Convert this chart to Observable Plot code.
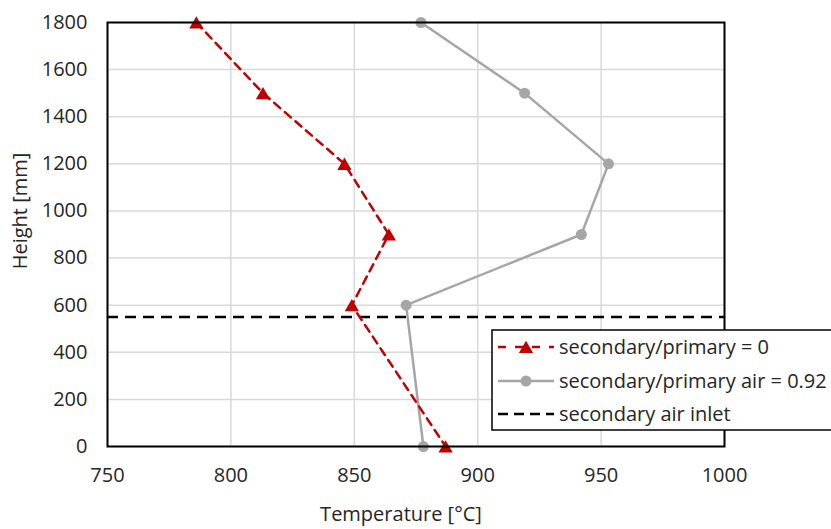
<!DOCTYPE html>
<html>
<head>
<meta charset="utf-8">
<script src="https://cdn.jsdelivr.net/npm/d3@7"></script>
<script src="https://cdn.jsdelivr.net/npm/@observablehq/plot@0.6"></script>
<style>
  html, body { margin: 0; padding: 0; background: #fff; }
  #chart svg { display: block; overflow: hidden; }
</style>
</head>
<body>
<div id="chart"></div>
<script>
// Measurement heights along the reactor (mm)
const heights = [1800, 1500, 1200, 900, 600, 0];
// Temperatures for secondary/primary = 0 (°C)
const tempNoSecondary = [786, 813, 846, 864, 849, 887];
// Temperatures for secondary/primary air = 0.92 (°C)
const tempSecondary092 = [877, 919, 953, 942, 871, 878];
// Height of the secondary air inlet (mm)
const inletHeight = 550;

const xTicks = [750, 800, 850, 900, 950, 1000];
const yTicks = [0, 200, 400, 600, 800, 1000, 1200, 1400, 1600, 1800];

const seriesNames = ["secondary/primary = 0", "secondary/primary air = 0.92", "secondary air inlet"];
const xTitle = "Temperature [°C]";
const yTitle = "Height [mm]";
const RED = "#c00000", GREY = "#a6a6a6", TEXT = "#262626";
const FONT = "'Open Sans', sans-serif";
const FS = 20;

const red = heights.map((h, i) => ({h, t: tempNoSecondary[i]}));
const grey = heights.map((h, i) => ({h, t: tempSecondary092[i]}));

const chart = Plot.plot({
  width: 831,
  height: 529,
  marginLeft: 107,
  marginRight: 107,
  marginTop: 22,
  marginBottom: 83,
  style: {fontFamily: FONT, fontSize: FS + "px", color: TEXT, background: "#fff"},
  x: {domain: [750, 1000], ticks: xTicks, label: null},
  y: {domain: [0, 1800], ticks: yTicks, label: null},
  marks: [
    Plot.gridX(xTicks, {stroke: "#d9d9d9", strokeOpacity: 1, strokeWidth: 1.5}),
    Plot.gridY(yTicks, {stroke: "#d9d9d9", strokeOpacity: 1, strokeWidth: 1.5}),
    Plot.axisX(xTicks, {tickSize: 0, tickPadding: 21, fontSize: FS, fill: TEXT, tickFormat: "d"}),
    Plot.axisY(yTicks, {tickSize: 0, tickPadding: 20, fontSize: FS, fill: TEXT, tickFormat: "d"}),
    Plot.ruleY([inletHeight], {stroke: "#000", strokeWidth: 2.5, strokeDasharray: "11,7"}),
    Plot.line(grey, {x: "t", y: "h", stroke: GREY, strokeWidth: 2.5}),
    Plot.dot(grey, {x: "t", y: "h", r: 5.5, fill: GREY, stroke: "none"}),
    Plot.line(red, {x: "t", y: "h", stroke: RED, strokeWidth: 2.5, strokeDasharray: "8,6"}),
    Plot.dot(red, {x: "t", y: "h", symbol: "triangle", r: 5.3, dy: 2, fill: RED, stroke: "none"}),
    Plot.frame({stroke: "#000", strokeWidth: 2})
  ]
});
document.getElementById("chart").appendChild(chart);

const svg = d3.select(chart);

// Axis titles
svg.append("text").attr("x", 401).attr("y", 514).attr("dy", "0.35em")
  .attr("text-anchor", "middle").attr("font-family", FONT).attr("font-size", FS)
  .attr("fill", TEXT).text(xTitle);
svg.append("text").attr("transform", "translate(20,211) rotate(-90)").attr("dy", "0.35em")
  .attr("text-anchor", "middle").attr("font-family", FONT).attr("font-size", FS)
  .attr("fill", TEXT).text(yTitle);

// Legend box overlaid at the lower right of the plot
const lg = svg.append("g").attr("transform", "translate(492,330)");
lg.append("rect").attr("x", 0).attr("y", 0).attr("width", 360).attr("height", 100)
  .attr("fill", "#fff").attr("stroke", "#000").attr("stroke-width", 1.5);
const rowY = [17, 51, 84];
const styles = [
  {stroke: RED, dash: "8,9", marker: "triangle", fill: RED},
  {stroke: GREY, dash: null, marker: "circle", fill: GREY},
  {stroke: "#000", dash: "10,6", marker: null}
];
seriesNames.forEach((name, i) => {
  const g = lg.append("g").attr("transform", `translate(0,${rowY[i]})`);
  const s = styles[i];
  g.append("line").attr("x1", 6).attr("x2", 62).attr("y1", 0).attr("y2", 0)
    .attr("stroke", s.stroke).attr("stroke-width", 2.5)
    .attr("stroke-dasharray", s.dash);
  if (s.marker === "triangle") {
    g.append("path").attr("d", d3.symbol(d3.symbolTriangle, 88)()).attr("transform", "translate(34,2)").attr("fill", s.fill);
  } else if (s.marker === "circle") {
    g.append("circle").attr("cx", 34).attr("cy", 0).attr("r", 5.5).attr("fill", s.fill);
  }
  g.append("text").attr("x", 67).attr("y", 0).attr("dy", "0.35em")
    .attr("text-anchor", "start")
    .attr("font-family", FONT).attr("font-size", FS).attr("fill", TEXT).text(name);
});
</script>
</body>
</html>
